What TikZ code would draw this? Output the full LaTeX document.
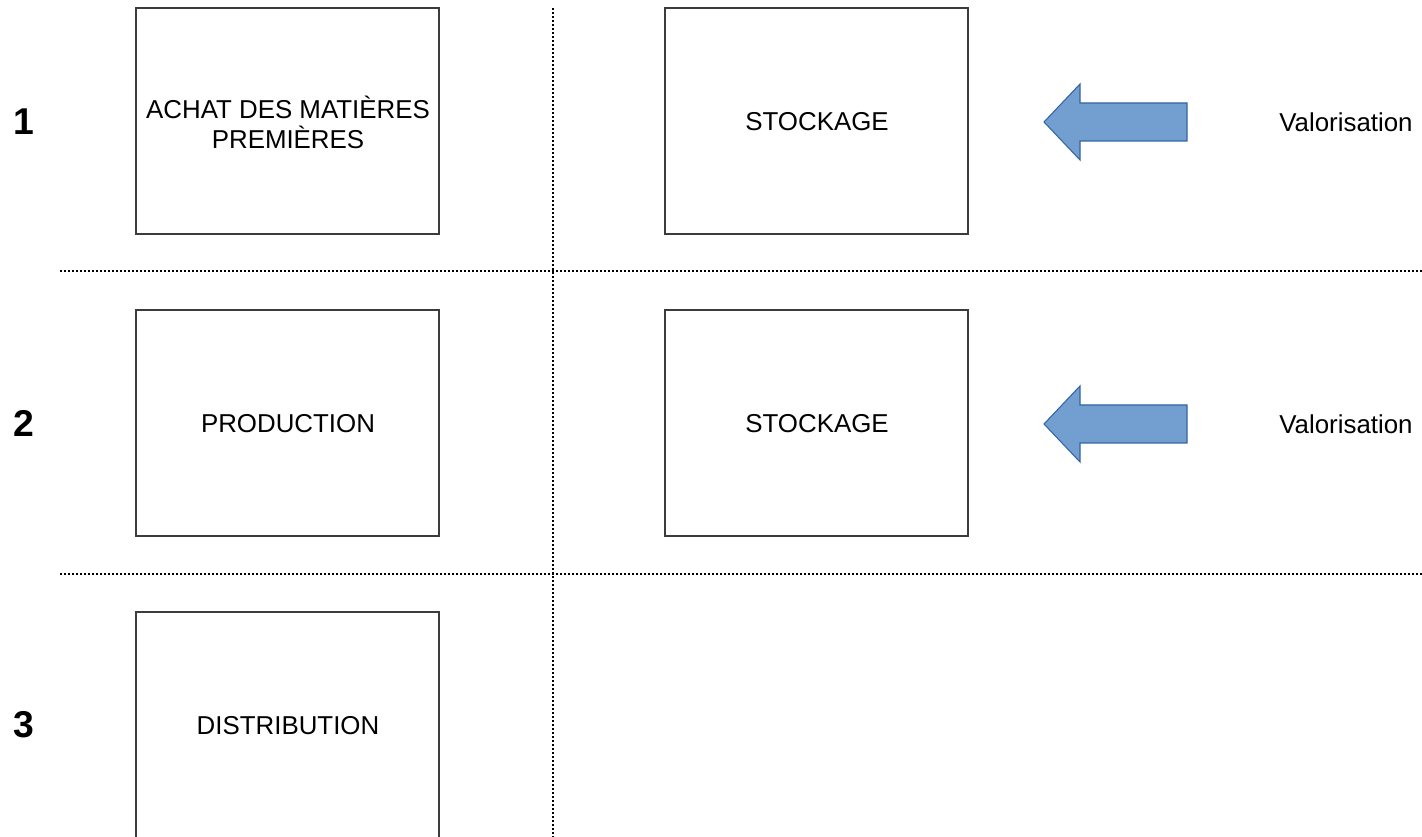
\documentclass[tikz,border=0pt]{standalone}
\usepackage{fontspec}
\setmainfont{Liberation Sans}
\definecolor{arrowfill}{HTML}{729FCF}
\definecolor{arrowedge}{HTML}{3465A4}
\definecolor{boxedge}{HTML}{3C3C3C}
\begin{document}
\begin{tikzpicture}[x=0.75pt,y=-0.75pt,
  stepbox/.style={draw=boxedge,line width=0.8pt},
  sep/.style={line width=1.5pt,dash pattern=on 1.5pt off 1.5pt},
  lbl/.style={font=\fontsize{19.4}{22.5}\selectfont,align=center,inner sep=0pt},
  num/.style={font=\fontsize{28}{32}\selectfont\bfseries,inner sep=0pt},
  bigarrow/.style={fill=arrowfill,draw=arrowedge,line width=0.8pt}]
\useasboundingbox (0,0) rectangle (1422,837);
\begin{scope}
\clip (0,0) rectangle (1422,837);
% separators
\draw[sep] (553,8) -- (553,837);
\draw[sep] (60,271) -- (1422,271);
\draw[sep] (60,574) -- (1422,574);
% boxes
\draw[stepbox] (136,8) rectangle (439,234) node[midway] (b1) {};
\draw[stepbox] (665,8) rectangle (968,234) node[midway] (s1) {};
\draw[stepbox] (136,310) rectangle (439,536) node[midway] (b2) {};
\draw[stepbox] (665,310) rectangle (968,536) node[midway] (s2) {};
\draw[stepbox] (136,612) rectangle (439,860) node[midway] (b3) {};
\end{scope}
\node[lbl] (t1) at (288,122) {ACHAT DES MATIÈRES\\PREMIÈRES};
\node[lbl] (ts1) at (817,122) {STOCKAGE};
\node[lbl] (t2) at (288,424) {PRODUCTION};
\node[lbl] (ts2) at (817,424) {STOCKAGE};
\node[lbl] (t3) at (288,726) {DISTRIBUTION};
\node[lbl] (v1) at (1346,122) {Valorisation};
\node[lbl] (v2) at (1346,424) {Valorisation};
\node[num] (n1) at (24,122) {1};
\node[num] (n2) at (24,423) {2};
\node[num] (n3) at (24,725) {3};
% arrows
\foreach \dy in {0,302}{
  \draw[bigarrow] (1044,122+\dy) -- (1080,84+\dy) -- (1080,103+\dy) -- (1187,103+\dy)
    -- (1187,141+\dy) -- (1080,141+\dy) -- (1080,160+\dy) -- cycle;
}
\end{tikzpicture}
\end{document}
